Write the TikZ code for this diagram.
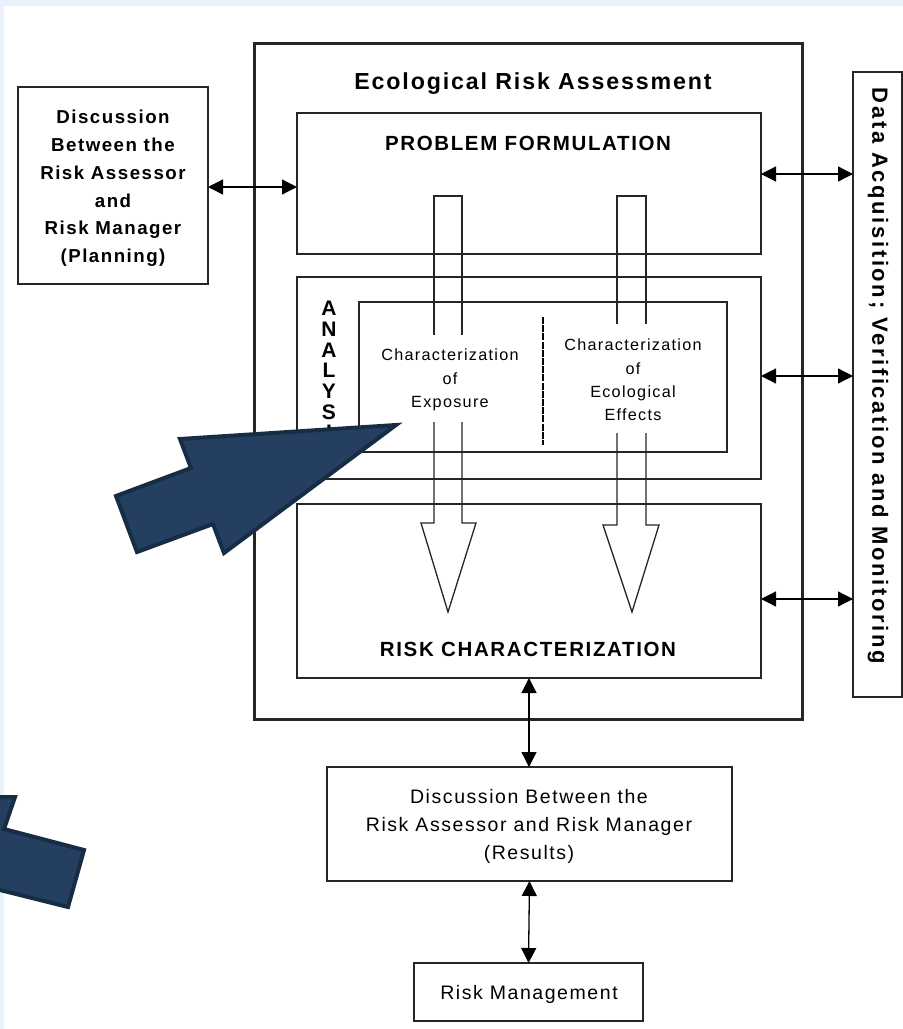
\documentclass[tikz,border=0pt]{standalone}
\usepackage{fontspec}
\setmainfont[LetterSpace=8]{Liberation Sans}
\newfontfamily\datafont[LetterSpace=12]{Liberation Sans}
\usetikzlibrary{arrows.meta,calc}
\definecolor{navy}{RGB}{36,63,96}
\definecolor{navyedge}{RGB}{23,44,69}
\definecolor{bgblue}{RGB}{232,240,250}
\begin{document}
\begin{tikzpicture}[x=1pt,y=-1pt,
  box/.style={draw=black!85,line width=1.3pt,inner sep=0pt,outer sep=0pt},
  dbl/.style={{Triangle[length=15pt,width=15pt]}-{Triangle[length=15pt,width=15pt]},line width=1.3pt},
  hollow/.style={draw=black!85,line width=1.3pt,line join=miter},
  bluearrow/.style={draw=navyedge,fill=navy,line width=4pt,line join=miter},
  lbl/.style={inner sep=0pt,align=center}]
\useasboundingbox (0,0) rectangle (903,1029);
\fill[white] (0,0) rectangle (903,1029);
\fill[bgblue] (0,0) rectangle (903,6);
\fill[bgblue] (0,0) rectangle (4,1029);

% boxes
\node[box,line width=3pt,minimum width=548pt,minimum height=676pt] (outer) at (528,381) {};
\node[box,minimum width=464pt,minimum height=141pt] (pf) at (529,183.5) {};
\node[box,minimum width=464pt,minimum height=202pt] (ana) at (529,378) {};
\node[box,minimum width=368pt,minimum height=150pt] (inner) at (543,377) {};
\node[box,minimum width=464pt,minimum height=174pt] (rc) at (529,591) {};
\node[box,minimum width=190pt,minimum height=197pt] (plan) at (113,185.5) {};
\node[box,minimum width=49pt,minimum height=625pt] (data) at (877.5,384.5) {};
\node[box,minimum width=405pt,minimum height=114pt] (res) at (529.5,824) {};
\node[box,minimum width=229pt,minimum height=58pt] (rm) at (528.5,992) {};

% texts
\node[lbl,font=\bfseries\fontsize{23.2}{28}\selectfont] (title) at (533,84) {Ecological Risk Assessment};
\node[lbl,font=\bfseries\fontsize{20.5}{24}\selectfont] (pftxt) at (528,143) {PROBLEM FORMULATION};
\node[lbl,font=\bfseries\fontsize{20.5}{24}\selectfont] (rctxt) at (528,649) {RISK CHARACTERIZATION};
\node[lbl,font=\bfseries\fontsize{21}{20.7}\selectfont] (anatxt) at (329,381) {A\\N\\A\\L\\Y\\S\\I\\S};
\node[lbl,font=\bfseries\fontsize{18.7}{27.8}\selectfont] (plantxt) at (113,188.5) {Discussion\\Between the\\Risk Assessor\\and\\Risk Manager\\(Planning)};
\node[lbl,font=\fontsize{16.2}{23.5}\selectfont] (exptxt) at (450,380) {Characterization\\of\\Exposure};
\node[lbl,font=\fontsize{16.2}{23.3}\selectfont] (efftxt) at (633,380) {Characterization\\of\\Ecological\\Effects};
\node[lbl,rotate=-90,font=\datafont\bfseries\fontsize{22}{26}\selectfont] (datatxt) at (878,376) {Data Acquisition; Verification and Monitoring};
\node[lbl,font=\fontsize{19.5}{28}\selectfont] (restxt) at (529,826) {Discussion Between the\\Risk Assessor and Risk Manager\\(Results)};
\node[lbl,font=\fontsize{19.5}{24}\selectfont] (rmtxt) at (529,994) {Risk Management};

% hollow vertical arrows
\draw[hollow] (434,335) -- (434,196) -- (462,196) -- (462,335);
\draw[hollow] (434,422) -- (434,523) -- (421,523) -- (448,612) -- (476,523) -- (462,523) -- (462,422);
\draw[hollow] (617,324) -- (617,196) -- (646,196) -- (646,324);
\draw[hollow] (617,433) -- (617,525) -- (603,525) -- (632,612) -- (659,525) -- (646,525) -- (646,433);

% dashed separator
\draw[line width=2.5pt,dash pattern=on 7pt off 1.2pt] (543,317) -- (543,445);

% connectors
\coordinate (y1) at (0,174);
\coordinate (y2) at (0,376);
\coordinate (y3) at (0,599);
\draw[dbl] (plan.east |- 0,187) -- (pf.west |- 0,187);
\draw[dbl] (pf.east |- y1) -- (data.west |- y1);
\draw[dbl] (ana.east |- y2) -- (data.west |- y2);
\draw[dbl] (rc.east |- y3) -- (data.west |- y3);
\draw[dbl] (rc.south) -- (rc.south |- res.north);
\draw[dbl] (res.south) -- (rm.north);

% blue pointer arrows
\draw[bluearrow] (396,425) -- (180,439) -- (191,468) -- (116,496) -- (137,552) -- (213,524) -- (224,553) -- cycle;
\draw[bluearrow] (-20,797) -- (15,797) -- (4,829) -- (84,850) -- (68,907) -- (-20,885) -- cycle;
\end{tikzpicture}
\end{document}
